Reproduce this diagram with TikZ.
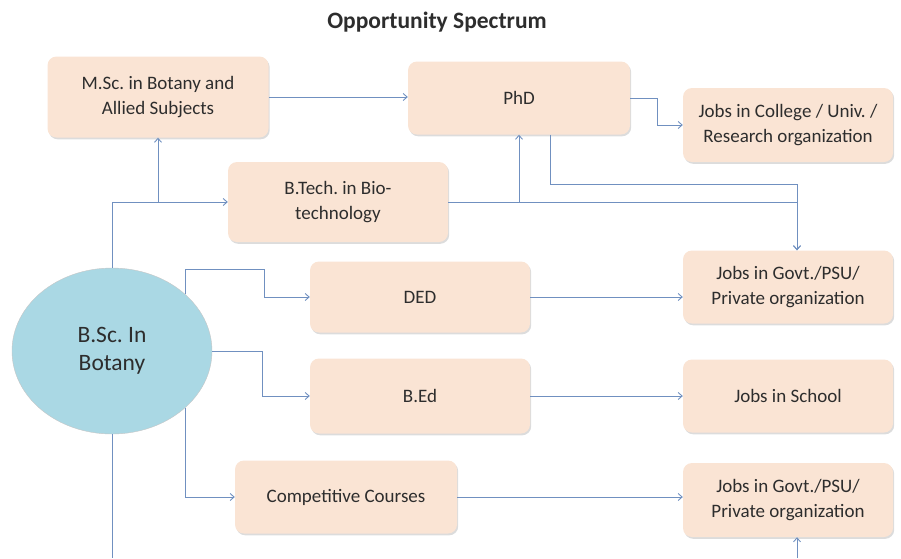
\documentclass[tikz,border=0pt]{standalone}
\usepackage{fontspec}
\setmainfont{Carlito}
\usepackage{xcolor}
\usepackage{tikz}
\usetikzlibrary{arrows.meta,calc,shapes.geometric,shadows}
\definecolor{peach}{RGB}{250,228,212}
\definecolor{skyfill}{RGB}{170,216,228}
\definecolor{linkblue}{RGB}{112,144,192}
\definecolor{txt}{RGB}{45,45,45}
\frenchspacing

\begin{document}
\begin{tikzpicture}[x=1pt,y=-1pt,
  bx/.style={rounded corners=9pt,align=center,font=\fontsize{19}{25}\selectfont,text=txt,
             minimum width=#1,minimum height=74pt,fill=peach,
             drop shadow={opacity=0.28,shadow xshift=1.2pt,shadow yshift=-1.8pt}},bx/.default=220pt,
  ln/.style={draw=linkblue,line width=0.9pt},
  ar/.style={ln,-{Straight Barb[length=4pt,width=7pt]}}]
  \useasboundingbox (0,0) rectangle (901,558);
  \node[font=\fontsize{23.5}{26}\selectfont\bfseries,text=txt] (title) at (437,22) {Opportunity Spectrum};
  \node[ellipse,draw=gray!45,fill=skyfill,minimum width=200pt,minimum height=166pt,inner sep=0pt,
        align=center,font=\fontsize{23.5}{28}\selectfont,text=txt] (bsc) at (112,351) {B.Sc. In\\Botany};
  \node[bx=221pt,minimum height=81pt] (msc) at (158,97) {M.Sc. in Botany and\\Allied Subjects};
  \node[bx=222pt,minimum height=73pt] (phd) at (519,98) {PhD};
  \node[bx=210pt] (coll) at (788,125) {Jobs in College / Univ. /\\Research organization};
  \node[bx,minimum height=80pt] (btech) at (338,202) {B.Tech. in Bio-\\technology};
  \node[bx,minimum height=71pt] (ded) at (420,297) {DED};
  \node[bx=210pt,minimum height=73pt] (gov1) at (788,287) {Jobs in Govt./PSU/\\Private organization};
  \node[bx,minimum height=75pt] (bed) at (420,396) {B.Ed};
  \node[bx=210pt,minimum height=73pt] (school) at (788,396) {Jobs in School};
  \node[bx=222pt,minimum height=73pt] (comp) at (346,497) {Competitive Courses};
  \node[bx=210pt] (gov2) at (788,500) {Jobs in Govt./PSU/\\Private organization};
  \coordinate (jx) at (797,0);
  \coordinate (bot) at (0,558);
  % from B.Sc.
  \draw[ar] (bsc.north) |- (btech.west);
  \draw[ar] (msc.south |- btech.west) -- (msc.south);
  \draw[ar] (bsc.38) |- ++(79,-25) |- (ded.west);
  \draw[ar] (bsc.east) -- ++(50,0) |- (bed.west);
  \draw[ar] (bsc.-38) |- (comp.west);
  \draw[ln] (bsc.south) -- (bsc.south |- bot);
  \draw[ar] (jx |- bot) -- (jx |- gov2.south);
  % second level
  \draw[ar] (msc.east) -- (msc.east -| phd.west);
  \draw[ar] (phd.east) -- ++(27,0) |- (coll.west);
  \draw[ar] (phd.south |- btech.east) -- (phd.south);
  \draw[ar] (btech.east) -| (jx |- gov1.north);
  \draw[ar] ($(phd.south)+(31,0)$) -- ++(0,50) -| (jx |- gov1.north);
  \foreach \a/\b in {ded/gov1,bed/school,comp/gov2}
    \draw[ar] (\a.east) -- (\a.east -| \b.west);
\end{tikzpicture}
\end{document}
